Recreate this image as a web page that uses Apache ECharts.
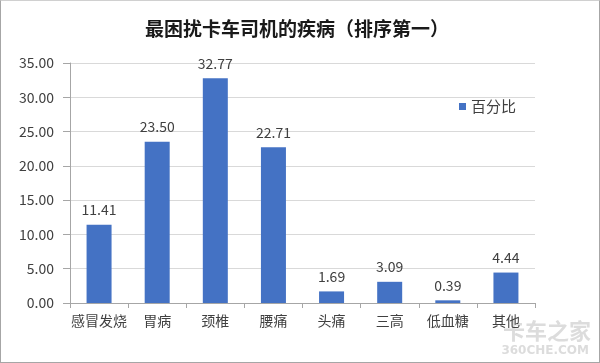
<!DOCTYPE html>
<html><head><meta charset="utf-8">
<script src="https://cdn.jsdelivr.net/npm/echarts@6/dist/echarts.min.js"></script>
<style>html,body{margin:0;padding:0;background:#fff}#c{width:600px;height:363px;box-sizing:border-box;border:1px solid #a6a6a6;border-top-color:#d0d0d0}</style>
</head><body><div id="c"></div>
<script>
const categories = ['感冒发烧','胃病','颈椎','腰痛','头痛','三高','低血糖','其他'];
const values = [11.41, 23.50, 32.77, 22.71, 1.69, 3.09, 0.39, 4.44];
const seriesName = '百分比';
const chart = echarts.init(document.getElementById('c'));
const font = '"Noto Sans CJK SC", "Noto Sans", sans-serif';
chart.setOption({
  animation: false,
  title: {text: '最困扰卡车司机的疾病（排序第一）', left: 139, top: 13,
    textStyle: {fontFamily: font, fontSize: 19, fontWeight: 'bold', color: '#1a1a1a'}},
  legend: {data: [seriesName], left: 453, top: 93, icon: 'rect', itemWidth: 7, itemHeight: 7, itemGap: 4,
    textStyle: {fontFamily: font, fontSize: 15, color: '#404040'}},
  grid: {left: 69, right: 64, top: 62, bottom: 59},
  xAxis: {type: 'category', data: categories,
    axisLine: {lineStyle: {color: '#a6a6a6'}},
    axisTick: {show: true, length: 5, lineStyle: {color: '#a6a6a6'}},
    axisLabel: {fontFamily: font, fontSize: 14, color: '#404040', margin: 11, interval: 0}},
  yAxis: {type: 'value', min: 0, max: 35, interval: 5,
    axisLine: {show: true, lineStyle: {color: '#a6a6a6'}},
    axisTick: {show: true, length: 7, lineStyle: {color: '#a6a6a6'}},
    splitLine: {lineStyle: {color: '#d9d9d9'}},
    axisLabel: {fontFamily: font, fontSize: 14, color: '#404040', margin: 16,
      formatter: v => v.toFixed(2)}},
  series: [{name: seriesName, type: 'bar', data: values, barWidth: 25,
    itemStyle: {color: '#4472C4'},
    label: {show: true, position: 'top', distance: 8, fontFamily: font, fontSize: 14, color: '#404040',
      formatter: p => p.value.toFixed(2)}}],
  graphic: [
    {type: 'text', right: 8, bottom: 20, style: {text: '卡车之家', font: 'bold 22px "Noto Sans CJK SC"', fill: 'rgba(205,205,205,0.7)'}},
    {type: 'text', right: 10, bottom: 5, style: {text: '360CHE.COM', font: 'bold 12px "DejaVu Sans"', fill: 'rgba(205,205,205,0.7)'}}
  ]
});
</script></body></html>
